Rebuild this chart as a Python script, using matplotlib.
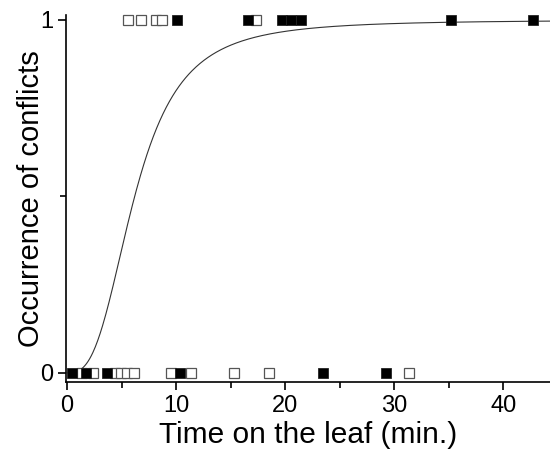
import numpy as np
import matplotlib
matplotlib.use("Agg")
import matplotlib.pyplot as plt
from matplotlib.ticker import MultipleLocator, FixedLocator

plt.rcParams['font.family'] = ['Liberation Sans', 'DejaVu Sans']

# Observations: time on the leaf (min.) and occurrence (0 / 1)
open_t0 = [1.4, 2.4, 4.35, 4.9, 5.5, 6.1, 9.5, 11.4, 15.3, 18.5, 31.4]
filled_t0 = [0.48, 1.78, 3.68, 10.4, 23.5, 29.3]
open_t1 = [5.55, 6.77, 8.2, 8.75, 17.3]
filled_t1 = [10.1, 16.6, 19.7, 20.5, 21.5, 35.2, 42.75]

# Fitted curve parameters (Hill-type: t^n / (t^n + k^n))
fit_k = 6.2
fit_n = 2.9

fig = plt.figure(figsize=(5.5, 4.53), dpi=100)
ax = fig.add_axes([66/550, 71/453, 1 - 66/550, (438 - 71)/453])

t = np.linspace(0, 44.3, 600)
p = t**fit_n / (t**fit_n + fit_k**fit_n)
ax.plot(t, p, color='#333333', lw=0.8, zorder=1)

ms = 7.8
ax.plot(open_t0, np.zeros(len(open_t0)), 's', ms=ms, mfc='white', mec='#555555', mew=0.9, ls='none', zorder=2, clip_on=False)
ax.plot(open_t1, np.ones(len(open_t1)), 's', ms=ms, mfc='white', mec='#555555', mew=0.9, ls='none', zorder=2, clip_on=False)
ax.plot(filled_t0, np.zeros(len(filled_t0)), 's', ms=ms, mfc='black', mec='#222222', mew=0.6, ls='none', zorder=3, clip_on=False)
ax.plot(filled_t1, np.ones(len(filled_t1)), 's', ms=ms, mfc='black', mec='#222222', mew=0.6, ls='none', zorder=3, clip_on=False)

ax.set_xlim(-0.1, 44.3)
ax.set_ylim(-0.026, 1.014)

ax.spines['top'].set_visible(False)
ax.spines['right'].set_visible(False)
for s in ['left', 'bottom']:
    ax.spines[s].set_linewidth(1.2)

ax.xaxis.set_major_locator(MultipleLocator(10))
ax.xaxis.set_minor_locator(MultipleLocator(5))
ax.yaxis.set_major_locator(FixedLocator([0, 1]))
ax.yaxis.set_minor_locator(FixedLocator([0.5]))
ax.set_yticklabels(['0', '1'])

ax.tick_params(which='major', direction='out', length=6, width=1.2, labelsize=17, pad=3)
ax.tick_params(which='minor', direction='out', length=4, width=1.2)

ax.set_xlabel('Time on the leaf (min.)', fontsize=21.5, labelpad=3)
ax.set_ylabel('Occurrence of conflicts', fontsize=21, labelpad=-3)

fig.savefig('out.png', dpi=100)
